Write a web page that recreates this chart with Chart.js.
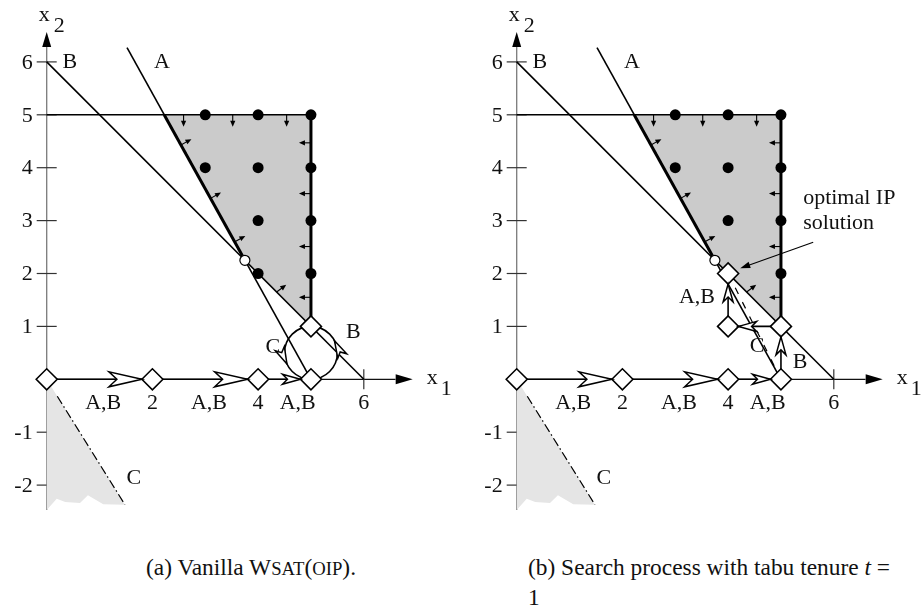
<!DOCTYPE html>
<html>
<head>
<meta charset="utf-8">
<script src="https://cdn.jsdelivr.net/npm/chart.js@4.4.0/dist/chart.umd.min.js"></script>
<style>
  html, body { margin: 0; padding: 0; background: #fff; width: 923px; height: 614px; overflow: hidden; }
  canvas { position: absolute; top: 0; }
  #chartA { left: 0; }
  #chartB { left: 470px; }
  .cap { position: absolute; font-family: "Liberation Serif", "Times New Roman", serif; font-size: 23.4px; color: #111; white-space: nowrap; }
  .sc { font-size: 0.8em; }
</style>
</head>
<body>
<canvas id="chartA" width="460" height="540"></canvas>
<canvas id="chartB" width="460" height="540"></canvas>
<div class="cap" style="left:146px; top:554px;">(a) Vanilla W<span class="sc">SAT</span>(<span class="sc">OIP</span>).</div>
<div class="cap" style="left:528px; top:554px;">(b) Search process with tabu tenure <i>t</i> =</div>
<div class="cap" style="left:528px; top:584px;">1</div>

<script>
/* ---- data (x1, x2 coordinates) ---- */
const yTicks = [-2, -1, 1, 2, 3, 4, 5, 6];
const xTicks = [6];
const xTickLabels = [2, 4, 6];
const pathLabelsX = [1.07, 3.07, 4.75];   // "A,B" under the x1 axis

const feasibleRegion = [[20 / 9, 5], [5, 5], [5, 1], [3.75, 2.25]];
const lineA = [[1.52, 6.27], [5, 0]];
const lineAEdge = [[20 / 9, 5], [3.75, 2.25]];
const lineB = [[0, 6], [6, 0]];
const boundTop = [[0, 5], [5, 5]];
const boundRight = [[5, 5], [5, 1]];
const lineC = [[0.2, -0.32], [1.48, -2.37]];
const regionC = [[0, 0], [0.2, -0.32], [1.48, -2.37], [1.07, -2.36], [0.78, -2.19], [0.63, -2.34],
                 [0.35, -2.32], [0.19, -2.26], [0, -2.47]];
const lpVertex = [[3.75, 2.25]];

const intPointsA = [[3, 5], [4, 5], [5, 5], [3, 4], [4, 4], [5, 4], [4, 3], [5, 3], [4, 2], [5, 2]];
const intPointsB = [[3, 5], [4, 5], [5, 5], [3, 4], [4, 4], [5, 4], [4, 3], [5, 3], [5, 2]];

// visited assignments (diamonds) and the straight moves between them
const visitedA = [[0, 0], [2, 0], [4, 0], [5, 0], [5, 1]];
const movesA = [[0, 0], [2, 0], [4, 0], [5, 0]];
const headsA = ['big', 'big', 'small'];
const visitedB = [[0, 0], [2, 0], [4, 0], [5, 0], [5, 1], [4, 1], [4, 2]];
const movesB = [[0, 0], [2, 0], [4, 0], [5, 0], [5, 1], [4, 1], [4, 2]];
const headsB = ['big', 'big', 'small', 'small', 'small', 'small'];
const tabuLine = [[4, 2], [5, 0]];

const loopCenter = [5, 0.5];
const loopRadius = 0.5;
const loopHeadsDeg = [155, -27];

const normalsTop = [[2.59, 5], [3.52, 5], [4.54, 5]];
const normalsRight = [[5, 4.47], [5, 3.51], [5, 2.51], [5, 1.55]];
const normalsA = [[2.54, 4.43], [3.10, 3.42], [3.56, 2.6]];
const normalsB = [[4.35, 1.65]];

const labelsCommon = [['B', 0.44, 6], ['A', 2.18, 6], ['C', 1.65, -1.87]];
const labelsA = [['C', 4.28, 0.61], ['B', 5.8, 0.89]];
const labelsB = [['A,B', 3.41, 1.56], ['C', 4.55, 0.63], ['B', 5.36, 0.33]];
const noteB = [['optimal IP', 5.42, 3.43], ['solution', 5.42, 2.95]];
const noteArrow = [[5.61, 2.59], [4.23, 2.1]];

/* ---- layout ---- */
const W = 460, H = 540, OX = 46.7, OY = 379.3, UX = 52.85, UY = 52.9;
const X_MIN = -OX / UX, X_MAX = X_MIN + W / UX;
const Y_MAX = OY / UY, Y_MIN = Y_MAX - H / UY;
const FONT = '22px "Liberation Serif", "Times New Roman", serif';
const DIAMOND = 10.5;

const pts = arr => arr.map(p => ({ x: p[0], y: p[1] }));
const closed = arr => pts(arr.concat([arr[0]]));

function seg(data, width, extra) {
  return Object.assign({ type: 'line', data: pts(data), borderColor: '#000', borderWidth: width,
    pointRadius: 0, fill: false, tension: 0, order: 10 }, extra || {});
}

function openHead(ctx, tx, ty, ux, uy, len, half, notch) {
  const nx = -uy, ny = ux, bx = tx - ux * len, by = ty - uy * len;
  ctx.beginPath();
  ctx.moveTo(tx, ty);
  ctx.lineTo(bx + nx * half, by + ny * half);
  ctx.lineTo(tx - ux * (len - notch), ty - uy * (len - notch));
  ctx.lineTo(bx - nx * half, by - ny * half);
  ctx.closePath();
  ctx.fillStyle = '#fff';
  ctx.fill();
  ctx.stroke();
}

function solidHead(ctx, tx, ty, ux, uy, len, half) {
  const nx = -uy, ny = ux, bx = tx - ux * len, by = ty - uy * len;
  ctx.beginPath();
  ctx.moveTo(tx, ty);
  ctx.lineTo(bx + nx * half, by + ny * half);
  ctx.lineTo(bx - nx * half, by - ny * half);
  ctx.closePath();
  ctx.fillStyle = '#000';
  ctx.fill();
}

function arrowLine(ctx, x0, y0, ux, uy, len, hl, hw) {
  const x1 = x0 + ux * len, y1 = y0 + uy * len;
  ctx.beginPath();
  ctx.moveTo(x0, y0);
  ctx.lineTo(x1 - ux * hl * 0.6, y1 - uy * hl * 0.6);
  ctx.stroke();
  solidHead(ctx, x1, y1, ux, uy, hl, hw);
}

const drawing = {
  id: 'drawing',
  beforeDatasetsDraw(chart, args, o) {
    const ctx = chart.ctx, xs = chart.scales.x, ys = chart.scales.y;
    const px = v => xs.getPixelForValue(v), py = v => ys.getPixelForValue(v);
    ctx.save();
    // axes
    ctx.lineWidth = 1.3;
    ctx.strokeStyle = '#7a7a7a';
    ctx.beginPath();
    ctx.moveTo(px(0), py(-2.47));
    ctx.lineTo(px(0), py(6.3));
    ctx.stroke();
    solidHead(ctx, px(0), 32, 0, -1, 15, 4.5);
    ctx.strokeStyle = '#111';
    ctx.beginPath();
    ctx.moveTo(px(0), py(0));
    ctx.lineTo(px(6.6), py(0));
    ctx.stroke();
    solidHead(ctx, px(0) + 366, py(0), 1, 0, 17, 5);
    // ticks
    ctx.strokeStyle = '#333';
    ctx.lineWidth = 1.2;
    yTicks.forEach(v => {
      ctx.beginPath(); ctx.moveTo(px(0) - 10, py(v)); ctx.lineTo(px(0) + 10, py(v)); ctx.stroke();
    });
    xTicks.forEach(v => {
      ctx.beginPath(); ctx.moveTo(px(v), py(0) - 10); ctx.lineTo(px(v), py(0) + 10); ctx.stroke();
    });
    // loop (panel a)
    if (o.loop) {
      const cx = px(loopCenter[0]), cy = py(loopCenter[1]);
      const r = Math.abs(py(loopCenter[1] + loopRadius) - cy);
      ctx.strokeStyle = '#000';
      ctx.lineWidth = 1.6;
      ctx.beginPath(); ctx.arc(cx, cy, r, 0, Math.PI * 2); ctx.stroke();
    }
    ctx.restore();
  },
  afterDatasetsDraw(chart, args, o) {
    const ctx = chart.ctx, xs = chart.scales.x, ys = chart.scales.y;
    const px = v => xs.getPixelForValue(v), py = v => ys.getPixelForValue(v);
    ctx.save();
    ctx.strokeStyle = '#000';
    ctx.lineJoin = 'miter';
    // move arrowheads
    ctx.lineWidth = 1.5;
    o.moves.forEach((p, i) => {
      if (i === 0) return;
      const a = o.moves[i - 1];
      const x0 = px(a[0]), y0 = py(a[1]), x1 = px(p[0]), y1 = py(p[1]);
      const d = Math.hypot(x1 - x0, y1 - y0), ux = (x1 - x0) / d, uy = (y1 - y0) / d;
      const big = o.heads[i - 1] === 'big';
      openHead(ctx, x1 - ux * DIAMOND, y1 - uy * DIAMOND, ux, uy, big ? 33 : 18, big ? 7.5 : 5, big ? 8 : 5);
    });
    // loop arrowheads
    if (o.loop) {
      const cx = px(loopCenter[0]), cy = py(loopCenter[1]);
      const r = Math.abs(py(loopCenter[1] + loopRadius) - cy);
      loopHeadsDeg.forEach(deg => {
        const t = deg * Math.PI / 180;
        const tx = cx + r * Math.cos(t), ty = cy + r * Math.sin(t);
        openHead(ctx, tx, ty, Math.sin(t), -Math.cos(t), 17, 5, 4.5);
      });
    }
    // normal arrows
    ctx.lineWidth = 1.1;
    const norm = (list, dx, dy) => {
      const l = Math.hypot(dx, dy);
      list.forEach(p => arrowLine(ctx, px(p[0]), py(p[1]), dx / l, dy / l, 12, 6, 2.6));
    };
    norm(normalsTop, 0, 1);
    norm(normalsRight, -1, 0);
    norm(normalsA, 9, -5);
    norm(normalsB, 1, -0.75);
    // note arrow
    if (o.note) {
      const a = noteArrow[0], b = noteArrow[1];
      const x0 = px(a[0]), y0 = py(a[1]), x1 = px(b[0]), y1 = py(b[1]);
      const d = Math.hypot(x1 - x0, y1 - y0);
      arrowLine(ctx, x0, y0, (x1 - x0) / d, (y1 - y0) / d, d, 10, 3.2);
    }
    // text
    ctx.fillStyle = '#111';
    ctx.font = FONT;
    ctx.textBaseline = 'middle';
    ctx.textAlign = 'right';
    yTicks.forEach(v => ctx.fillText(String(v), px(0) - 14, py(v) + 1));
    ctx.textAlign = 'center';
    xTickLabels.forEach(v => ctx.fillText(String(v), px(v), py(-0.45)));
    pathLabelsX.forEach(v => ctx.fillText('A,B', px(v), py(-0.45)));
    labelsCommon.concat(o.labels).forEach(l => ctx.fillText(l[0], px(l[1]), py(l[2])));
    ctx.textAlign = 'left';
    (o.note ? noteB : []).forEach(l => ctx.fillText(l[0], px(l[1]), py(l[2])));
    // axis titles
    ctx.fillText('x', px(0) - 8, 15);
    ctx.fillText('2', px(0) + 7, 26);
    ctx.fillText('x', px(0) + 380, py(0) - 1);
    ctx.fillText('1', px(0) + 394, py(0) + 10);
    ctx.restore();
  }
};

function makeChart(id, panel) {
  const isB = panel === 'b';
  const datasets = [
    { type: 'line', data: closed(feasibleRegion), fill: 'shape', backgroundColor: '#cbcbcb',
      borderWidth: 0, borderColor: 'rgba(0,0,0,0)', pointRadius: 0, order: 30 },
    { type: 'line', data: closed(regionC), fill: 'shape', backgroundColor: '#e5e5e5',
      borderWidth: 0, borderColor: 'rgba(0,0,0,0)', pointRadius: 0, order: 30 },
    seg(lineB, 1.6),
    seg(lineA, 1.6),
    seg(boundTop, 1.6),
    seg(lineAEdge, 3),
    seg(boundRight, 3),
    seg(lineC, 1.2, { borderDash: [9, 3, 1.5, 3] }),
    seg(isB ? movesB : movesA, 1.6, { order: 5 }),
    { type: 'scatter', data: pts(isB ? intPointsB : intPointsA), pointRadius: 5.5, pointBackgroundColor: '#000',
      pointBorderWidth: 0, order: 3 },
    { type: 'scatter', data: pts(lpVertex), pointRadius: 5, pointBackgroundColor: '#fff',
      pointBorderColor: '#000', pointBorderWidth: 1.2, order: 3 },
    { type: 'scatter', data: pts(isB ? visitedB : visitedA), pointStyle: 'rectRot', pointRadius: DIAMOND,
      pointBackgroundColor: '#fff', pointBorderColor: '#000', pointBorderWidth: 1.6, order: 1 }
  ];
  if (isB) datasets.push(seg(tabuLine, 1.2, { borderDash: [7, 9], order: 6 }));
  return new Chart(document.getElementById(id), {
    type: 'scatter',
    data: { datasets },
    options: {
      responsive: false,
      animation: false,
      events: [],
      layout: { padding: 0, autoPadding: false },
      scales: {
        x: { type: 'linear', min: X_MIN, max: X_MAX, display: false },
        y: { type: 'linear', min: Y_MIN, max: Y_MAX, display: false }
      },
      plugins: {
        legend: { display: false },
        tooltip: { enabled: false },
        drawing: {
          loop: !isB,
          note: isB,
          moves: isB ? movesB : movesA,
          heads: isB ? headsB : headsA,
          labels: isB ? labelsB : labelsA
        }
      }
    },
    plugins: [drawing]
  });
}

makeChart('chartA', 'a');
makeChart('chartB', 'b');
</script>
</body>
</html>
